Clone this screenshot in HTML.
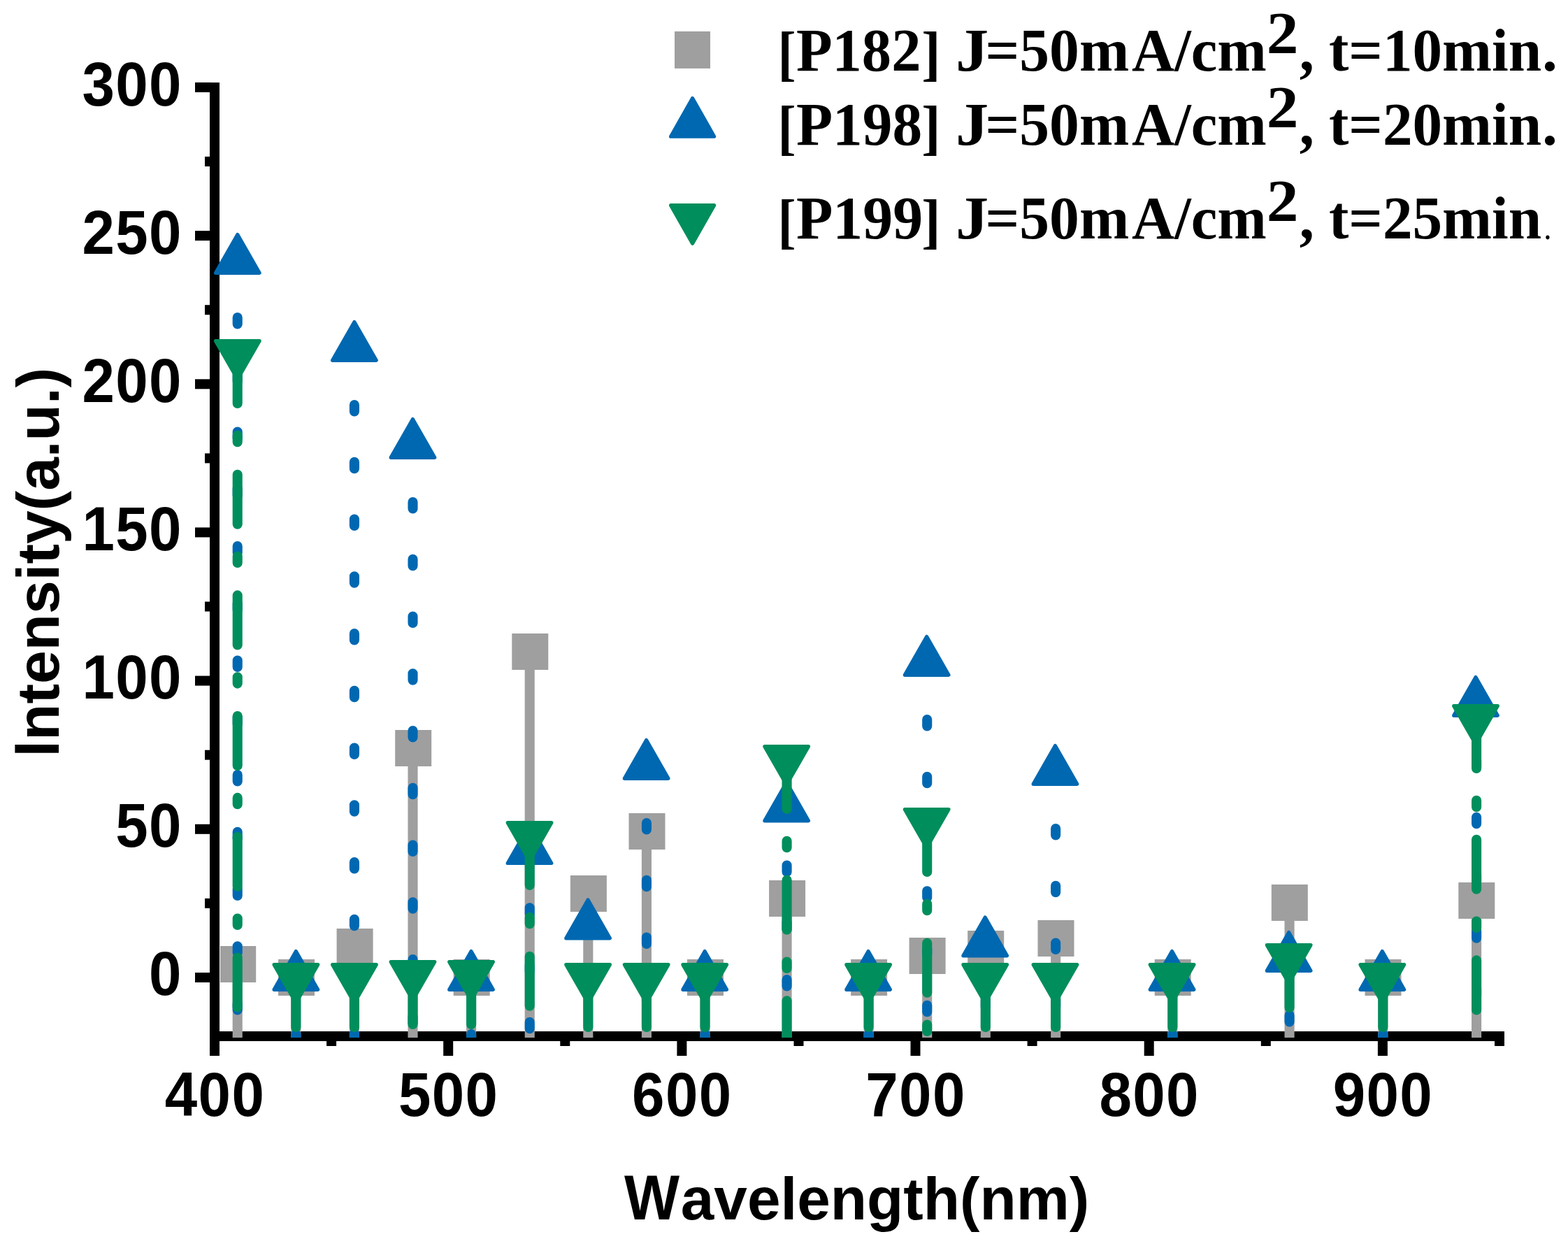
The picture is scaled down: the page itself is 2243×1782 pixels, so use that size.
<!DOCTYPE html>
<html lang="en"><head><meta charset="utf-8"><title>Intensity vs Wavelength</title>
<style>html,body{margin:0;padding:0;background:#fff}svg{display:block}.ax{font-family:"Liberation Sans",Arial,Helvetica,sans-serif;font-weight:bold;fill:#000}.lg{font-kerning:none}.lg{font-family:"Liberation Serif","Times New Roman",Times,serif;font-weight:bold;fill:#000}</style></head><body>
<svg width="2243" height="1782" viewBox="0 0 2243 1782">
<rect width="2243" height="1782" fill="#fff"/>
<defs><clipPath id="c"><rect x="0" y="0" width="2243" height="1484"/></clipPath></defs>
<g fill="#000">
<rect x="300" y="118" width="14" height="1392"/>
<rect x="300" y="1475" width="1852" height="14"/>
<rect x="279" y="1391.0" width="22" height="14"/>
<rect x="293" y="1284.9" width="8" height="14"/>
<rect x="279" y="1178.8" width="22" height="14"/>
<rect x="293" y="1072.7" width="8" height="14"/>
<rect x="279" y="966.6" width="22" height="14"/>
<rect x="293" y="860.5" width="8" height="14"/>
<rect x="279" y="754.4" width="22" height="14"/>
<rect x="293" y="648.4" width="8" height="14"/>
<rect x="279" y="542.3" width="22" height="14"/>
<rect x="293" y="436.2" width="8" height="14"/>
<rect x="279" y="330.1" width="22" height="14"/>
<rect x="293" y="224.0" width="8" height="14"/>
<rect x="279" y="117.9" width="22" height="14"/>
<rect x="300.0" y="1488" width="14" height="22"/>
<rect x="467.1" y="1488" width="14" height="8"/>
<rect x="634.2" y="1488" width="14" height="22"/>
<rect x="801.3" y="1488" width="14" height="8"/>
<rect x="968.4" y="1488" width="14" height="22"/>
<rect x="1135.5" y="1488" width="14" height="8"/>
<rect x="1302.5" y="1488" width="14" height="22"/>
<rect x="1469.6" y="1488" width="14" height="8"/>
<rect x="1636.7" y="1488" width="14" height="22"/>
<rect x="1803.8" y="1488" width="14" height="8"/>
<rect x="1970.9" y="1488" width="14" height="22"/>
<rect x="2138.0" y="1488" width="14" height="8"/>
</g>
<g class="ax">
<text transform="translate(260.9,1423.3) scale(0.935,1)" text-anchor="end" font-size="89.3" letter-spacing="1.45">0</text>
<text transform="translate(260.9,1211.3) scale(0.935,1)" text-anchor="end" font-size="89.3" letter-spacing="1.45">50</text>
<text transform="translate(260.9,999.2) scale(0.935,1)" text-anchor="end" font-size="89.3" letter-spacing="1.45">100</text>
<text transform="translate(260.9,787.2) scale(0.935,1)" text-anchor="end" font-size="89.3" letter-spacing="1.45">150</text>
<text transform="translate(260.9,575.2) scale(0.935,1)" text-anchor="end" font-size="89.3" letter-spacing="1.45">200</text>
<text transform="translate(260.9,363.1) scale(0.935,1)" text-anchor="end" font-size="89.3" letter-spacing="1.45">250</text>
<text transform="translate(260.9,151.1) scale(0.935,1)" text-anchor="end" font-size="89.3" letter-spacing="1.45">300</text>
<text transform="translate(307.5,1595.8) scale(0.935,1)" text-anchor="middle" font-size="89.3" letter-spacing="1.45">400</text>
<text transform="translate(641.7,1595.8) scale(0.935,1)" text-anchor="middle" font-size="89.3" letter-spacing="1.45">500</text>
<text transform="translate(975.8,1595.8) scale(0.935,1)" text-anchor="middle" font-size="89.3" letter-spacing="1.45">600</text>
<text transform="translate(1310.0,1595.8) scale(0.935,1)" text-anchor="middle" font-size="89.3" letter-spacing="1.45">700</text>
<text transform="translate(1644.2,1595.8) scale(0.935,1)" text-anchor="middle" font-size="89.3" letter-spacing="1.45">800</text>
<text transform="translate(1978.4,1595.8) scale(0.935,1)" text-anchor="middle" font-size="89.3" letter-spacing="1.45">900</text>
<text transform="translate(0,1744.0)"><tspan x="893.00" font-size="90.4" textLength="79.10" lengthAdjust="spacingAndGlyphs">W</tspan><tspan x="973.79" font-size="85.2" textLength="584.40" lengthAdjust="spacingAndGlyphs">avelength(nm)</tspan></text>
<text transform="translate(84.1,1100) rotate(-90)"><tspan x="17.75" font-size="90.4" textLength="22.81" lengthAdjust="spacingAndGlyphs">I</tspan><tspan x="41.06" font-size="85.2" textLength="533.25" lengthAdjust="spacingAndGlyphs">ntensity(a.u.)</tspan></text>
</g>
<g clip-path="url(#c)">
<g stroke="#9f9f9f" stroke-width="14.1" fill="none">
<path d="M339.72 1379.0V1490"/>
<path d="M423.32 1398.0V1490"/>
<path d="M506.92 1354.0V1490"/>
<path d="M590.52 1070.0V1490"/>
<path d="M674.12 1398.0V1490"/>
<path d="M757.73 932.0V1490"/>
<path d="M841.33 1278.0V1490"/>
<path d="M924.93 1189.0V1490"/>
<path d="M1008.53 1398.0V1490"/>
<path d="M1125.57 1285.0V1490"/>
<path d="M1242.62 1398.0V1490"/>
<path d="M1326.22 1367.0V1490"/>
<path d="M1409.82 1357.0V1490"/>
<path d="M1510.14 1342.0V1490"/>
<path d="M1677.34 1398.0V1490"/>
<path d="M1844.55 1291.0V1490"/>
<path d="M1978.31 1398.0V1490"/>
<path d="M2112.07 1288.0V1490"/>
</g>
<rect x="315" y="1353.0" width="51.2" height="52" fill="#9f9f9f"/>
<rect x="398.0" y="1372.0" width="52" height="52" fill="#9f9f9f"/>
<rect x="481.6" y="1328.0" width="52" height="52" fill="#9f9f9f"/>
<rect x="565.2" y="1044.0" width="52" height="52" fill="#9f9f9f"/>
<rect x="648.7" y="1372.0" width="52" height="52" fill="#9f9f9f"/>
<rect x="732.3" y="906.0" width="52" height="52" fill="#9f9f9f"/>
<rect x="815.9" y="1252.0" width="52" height="52" fill="#9f9f9f"/>
<rect x="899.5" y="1163.0" width="52" height="52" fill="#9f9f9f"/>
<rect x="983.0" y="1372.0" width="52" height="52" fill="#9f9f9f"/>
<rect x="1100.1" y="1259.0" width="52" height="52" fill="#9f9f9f"/>
<rect x="1217.1" y="1372.0" width="52" height="52" fill="#9f9f9f"/>
<rect x="1300.6" y="1341.0" width="52" height="52" fill="#9f9f9f"/>
<rect x="1384.2" y="1331.0" width="52" height="52" fill="#9f9f9f"/>
<rect x="1484.5" y="1316.0" width="52" height="52" fill="#9f9f9f"/>
<rect x="1651.7" y="1372.0" width="52" height="52" fill="#9f9f9f"/>
<rect x="1818.8" y="1265.0" width="52" height="52" fill="#9f9f9f"/>
<rect x="1952.5" y="1372.0" width="52" height="52" fill="#9f9f9f"/>
<rect x="2086.3" y="1262.0" width="52" height="52" fill="#9f9f9f"/>
<g stroke="#0068b1" stroke-width="14.1" fill="none" stroke-linecap="round" stroke-dasharray="9.4 72.35">
<path d="M339.72 372.3V1483"/>
<path d="M423.32 1397.3V1483"/>
<path d="M506.92 497.3V1483"/>
<path d="M590.52 636.3V1483"/>
<path d="M674.12 1397.3V1483"/>
<path d="M757.73 1216.5V1483"/>
<path d="M841.33 1323.8V1483"/>
<path d="M924.93 1095.3V1483"/>
<path d="M1008.53 1397.3V1483"/>
<path d="M1125.57 1155.8V1483"/>
<path d="M1242.62 1397.3V1483"/>
<path d="M1326.22 947.3V1483"/>
<path d="M1409.82 1348.8V1483"/>
<path d="M1510.14 1103.3V1483"/>
<path d="M1677.34 1397.3V1483"/>
<path d="M1844.55 1370.3V1483"/>
<path d="M1978.31 1397.3V1483"/>
<path d="M2112.07 1005.3V1483"/>
</g>
<path d="M339.82 335.60L371.12 390.30L308.52 390.30Z" fill="#0068b1" stroke="#0068b1" stroke-width="5.2" stroke-linejoin="round"/>
<path d="M423.36 1360.60L454.66 1415.30L392.06 1415.30Z" fill="#0068b1" stroke="#0068b1" stroke-width="5.2" stroke-linejoin="round"/>
<path d="M506.91 460.60L538.21 515.30L475.61 515.30Z" fill="#0068b1" stroke="#0068b1" stroke-width="5.2" stroke-linejoin="round"/>
<path d="M590.45 599.60L621.75 654.30L559.15 654.30Z" fill="#0068b1" stroke="#0068b1" stroke-width="5.2" stroke-linejoin="round"/>
<path d="M674.00 1360.60L705.30 1415.30L642.70 1415.30Z" fill="#0068b1" stroke="#0068b1" stroke-width="5.2" stroke-linejoin="round"/>
<path d="M757.54 1179.80L788.84 1234.50L726.24 1234.50Z" fill="#0068b1" stroke="#0068b1" stroke-width="5.2" stroke-linejoin="round"/>
<path d="M841.09 1287.10L872.39 1341.80L809.79 1341.80Z" fill="#0068b1" stroke="#0068b1" stroke-width="5.2" stroke-linejoin="round"/>
<path d="M924.63 1058.60L955.93 1113.30L893.33 1113.30Z" fill="#0068b1" stroke="#0068b1" stroke-width="5.2" stroke-linejoin="round"/>
<path d="M1008.18 1360.60L1039.48 1415.30L976.88 1415.30Z" fill="#0068b1" stroke="#0068b1" stroke-width="5.2" stroke-linejoin="round"/>
<path d="M1125.14 1119.10L1156.44 1173.80L1093.84 1173.80Z" fill="#0068b1" stroke="#0068b1" stroke-width="5.2" stroke-linejoin="round"/>
<path d="M1242.10 1360.60L1273.40 1415.30L1210.80 1415.30Z" fill="#0068b1" stroke="#0068b1" stroke-width="5.2" stroke-linejoin="round"/>
<path d="M1325.65 910.60L1356.95 965.30L1294.35 965.30Z" fill="#0068b1" stroke="#0068b1" stroke-width="5.2" stroke-linejoin="round"/>
<path d="M1409.19 1312.10L1440.49 1366.80L1377.89 1366.80Z" fill="#0068b1" stroke="#0068b1" stroke-width="5.2" stroke-linejoin="round"/>
<path d="M1509.45 1066.60L1540.75 1121.30L1478.15 1121.30Z" fill="#0068b1" stroke="#0068b1" stroke-width="5.2" stroke-linejoin="round"/>
<path d="M1676.54 1360.60L1707.84 1415.30L1645.24 1415.30Z" fill="#0068b1" stroke="#0068b1" stroke-width="5.2" stroke-linejoin="round"/>
<path d="M1843.63 1333.60L1874.93 1388.30L1812.33 1388.30Z" fill="#0068b1" stroke="#0068b1" stroke-width="5.2" stroke-linejoin="round"/>
<path d="M1977.30 1360.60L2008.60 1415.30L1946.00 1415.30Z" fill="#0068b1" stroke="#0068b1" stroke-width="5.2" stroke-linejoin="round"/>
<path d="M2110.97 968.60L2142.27 1023.30L2079.67 1023.30Z" fill="#0068b1" stroke="#0068b1" stroke-width="5.2" stroke-linejoin="round"/>
<g stroke="#008e5c" stroke-width="14.1" fill="none" stroke-linecap="round" stroke-dasharray="71 45.8 9.4 46.5">
<path d="M339.72 506.0V1483"/>
<path d="M423.32 1398.0V1483"/>
<path d="M506.92 1398.0V1483"/>
<path d="M590.52 1394.0V1483"/>
<path d="M674.12 1394.0V1483"/>
<path d="M757.73 1195.0V1483"/>
<path d="M841.33 1398.0V1483"/>
<path d="M924.93 1398.0V1483"/>
<path d="M1008.53 1398.0V1483"/>
<path d="M1125.57 1086.0V1483"/>
<path d="M1242.62 1398.0V1483"/>
<path d="M1326.22 1176.0V1483"/>
<path d="M1409.82 1398.0V1483"/>
<path d="M1510.14 1398.0V1483"/>
<path d="M1677.34 1398.0V1483"/>
<path d="M1844.55 1370.0V1483"/>
<path d="M1978.31 1398.0V1483"/>
<path d="M2112.07 1028.0V1483"/>
</g>
<path d="M339.82 542.30L371.12 487.60L308.52 487.60Z" fill="#008e5c" stroke="#008e5c" stroke-width="5.2" stroke-linejoin="round"/>
<path d="M423.36 1434.30L454.66 1379.60L392.06 1379.60Z" fill="#008e5c" stroke="#008e5c" stroke-width="5.2" stroke-linejoin="round"/>
<path d="M506.91 1434.30L538.21 1379.60L475.61 1379.60Z" fill="#008e5c" stroke="#008e5c" stroke-width="5.2" stroke-linejoin="round"/>
<path d="M590.45 1430.30L621.75 1375.60L559.15 1375.60Z" fill="#008e5c" stroke="#008e5c" stroke-width="5.2" stroke-linejoin="round"/>
<path d="M674.00 1430.30L705.30 1375.60L642.70 1375.60Z" fill="#008e5c" stroke="#008e5c" stroke-width="5.2" stroke-linejoin="round"/>
<path d="M757.54 1231.30L788.84 1176.60L726.24 1176.60Z" fill="#008e5c" stroke="#008e5c" stroke-width="5.2" stroke-linejoin="round"/>
<path d="M841.09 1434.30L872.39 1379.60L809.79 1379.60Z" fill="#008e5c" stroke="#008e5c" stroke-width="5.2" stroke-linejoin="round"/>
<path d="M924.63 1434.30L955.93 1379.60L893.33 1379.60Z" fill="#008e5c" stroke="#008e5c" stroke-width="5.2" stroke-linejoin="round"/>
<path d="M1008.18 1434.30L1039.48 1379.60L976.88 1379.60Z" fill="#008e5c" stroke="#008e5c" stroke-width="5.2" stroke-linejoin="round"/>
<path d="M1125.14 1122.30L1156.44 1067.60L1093.84 1067.60Z" fill="#008e5c" stroke="#008e5c" stroke-width="5.2" stroke-linejoin="round"/>
<path d="M1242.10 1434.30L1273.40 1379.60L1210.80 1379.60Z" fill="#008e5c" stroke="#008e5c" stroke-width="5.2" stroke-linejoin="round"/>
<path d="M1325.65 1212.30L1356.95 1157.60L1294.35 1157.60Z" fill="#008e5c" stroke="#008e5c" stroke-width="5.2" stroke-linejoin="round"/>
<path d="M1409.19 1434.30L1440.49 1379.60L1377.89 1379.60Z" fill="#008e5c" stroke="#008e5c" stroke-width="5.2" stroke-linejoin="round"/>
<path d="M1509.45 1434.30L1540.75 1379.60L1478.15 1379.60Z" fill="#008e5c" stroke="#008e5c" stroke-width="5.2" stroke-linejoin="round"/>
<path d="M1676.54 1434.30L1707.84 1379.60L1645.24 1379.60Z" fill="#008e5c" stroke="#008e5c" stroke-width="5.2" stroke-linejoin="round"/>
<path d="M1843.63 1406.30L1874.93 1351.60L1812.33 1351.60Z" fill="#008e5c" stroke="#008e5c" stroke-width="5.2" stroke-linejoin="round"/>
<path d="M1977.30 1434.30L2008.60 1379.60L1946.00 1379.60Z" fill="#008e5c" stroke="#008e5c" stroke-width="5.2" stroke-linejoin="round"/>
<path d="M2110.97 1064.30L2142.27 1009.60L2079.67 1009.60Z" fill="#008e5c" stroke="#008e5c" stroke-width="5.2" stroke-linejoin="round"/>
</g>
<rect x="965.0" y="44.9" width="51" height="53" fill="#9f9f9f"/>
<path d="M990.60 140.50L1021.60 195.20L959.60 195.20Z" fill="#0068b1" stroke="#0068b1" stroke-width="5.2" stroke-linejoin="round"/>
<path d="M990.60 348.30L1021.60 293.60L959.60 293.60Z" fill="#008e5c" stroke="#008e5c" stroke-width="5.2" stroke-linejoin="round"/>
<text class="lg"><tspan x="1112.54" y="104.9" font-size="86" textLength="26.06" lengthAdjust="spacingAndGlyphs">[</tspan><tspan x="1138.92" y="100.9" font-size="86" textLength="178.57" lengthAdjust="spacingAndGlyphs">P182</tspan><tspan x="1318.34" y="104.9" font-size="86" textLength="27.28" lengthAdjust="spacingAndGlyphs">]</tspan> <tspan x="1367.11" y="100.9" font-size="86" textLength="47.18" lengthAdjust="spacingAndGlyphs">J</tspan><tspan x="1409.52" y="100.9" font-size="86" textLength="205.73" lengthAdjust="spacingAndGlyphs">=50m</tspan><tspan x="1619.12" y="100.9" font-size="86" textLength="192.57" lengthAdjust="spacingAndGlyphs">A/cm</tspan><tspan x="1811.65" y="75.8" font-size="84" textLength="45.71" lengthAdjust="spacingAndGlyphs">2</tspan><tspan x="1858.72" y="100.9" font-size="86" textLength="21.12" lengthAdjust="spacingAndGlyphs">,</tspan> <tspan x="1901.01" y="100.9" font-size="86" textLength="304.10" lengthAdjust="spacingAndGlyphs">t=10min</tspan><tspan x="2205.91" y="100.9" font-size="86" textLength="21.96" lengthAdjust="spacingAndGlyphs">.</tspan></text>
<text class="lg"><tspan x="1112.54" y="210.9" font-size="86" textLength="26.06" lengthAdjust="spacingAndGlyphs">[</tspan><tspan x="1138.91" y="206.9" font-size="86" textLength="180.22" lengthAdjust="spacingAndGlyphs">P198</tspan><tspan x="1318.34" y="210.9" font-size="86" textLength="27.28" lengthAdjust="spacingAndGlyphs">]</tspan> <tspan x="1367.11" y="206.9" font-size="86" textLength="47.18" lengthAdjust="spacingAndGlyphs">J</tspan><tspan x="1409.52" y="206.9" font-size="86" textLength="205.73" lengthAdjust="spacingAndGlyphs">=50m</tspan><tspan x="1619.12" y="206.9" font-size="86" textLength="192.57" lengthAdjust="spacingAndGlyphs">A/cm</tspan><tspan x="1811.65" y="181.8" font-size="84" textLength="45.71" lengthAdjust="spacingAndGlyphs">2</tspan><tspan x="1858.72" y="206.9" font-size="86" textLength="21.12" lengthAdjust="spacingAndGlyphs">,</tspan> <tspan x="1901.01" y="206.9" font-size="86" textLength="304.10" lengthAdjust="spacingAndGlyphs">t=20min</tspan><tspan x="2205.91" y="206.9" font-size="86" textLength="21.96" lengthAdjust="spacingAndGlyphs">.</tspan></text>
<text class="lg"><tspan x="1112.54" y="345.0" font-size="86" textLength="26.06" lengthAdjust="spacingAndGlyphs">[</tspan><tspan x="1138.90" y="341.0" font-size="86" textLength="181.24" lengthAdjust="spacingAndGlyphs">P199</tspan><tspan x="1318.34" y="345.0" font-size="86" textLength="27.28" lengthAdjust="spacingAndGlyphs">]</tspan> <tspan x="1367.11" y="341.0" font-size="86" textLength="47.18" lengthAdjust="spacingAndGlyphs">J</tspan><tspan x="1409.52" y="341.0" font-size="86" textLength="205.73" lengthAdjust="spacingAndGlyphs">=50m</tspan><tspan x="1619.12" y="341.0" font-size="86" textLength="192.57" lengthAdjust="spacingAndGlyphs">A/cm</tspan><tspan x="1811.65" y="315.9" font-size="84" textLength="45.71" lengthAdjust="spacingAndGlyphs">2</tspan><tspan x="1858.72" y="341.0" font-size="86" textLength="21.12" lengthAdjust="spacingAndGlyphs">,</tspan> <tspan x="1901.01" y="341.0" font-size="86" textLength="304.10" lengthAdjust="spacingAndGlyphs">t=25min</tspan><tspan x="2208.20" y="342.2" font-size="50" font-weight="normal" textLength="11.25" lengthAdjust="spacingAndGlyphs">.</tspan></text>
</svg></body></html>
